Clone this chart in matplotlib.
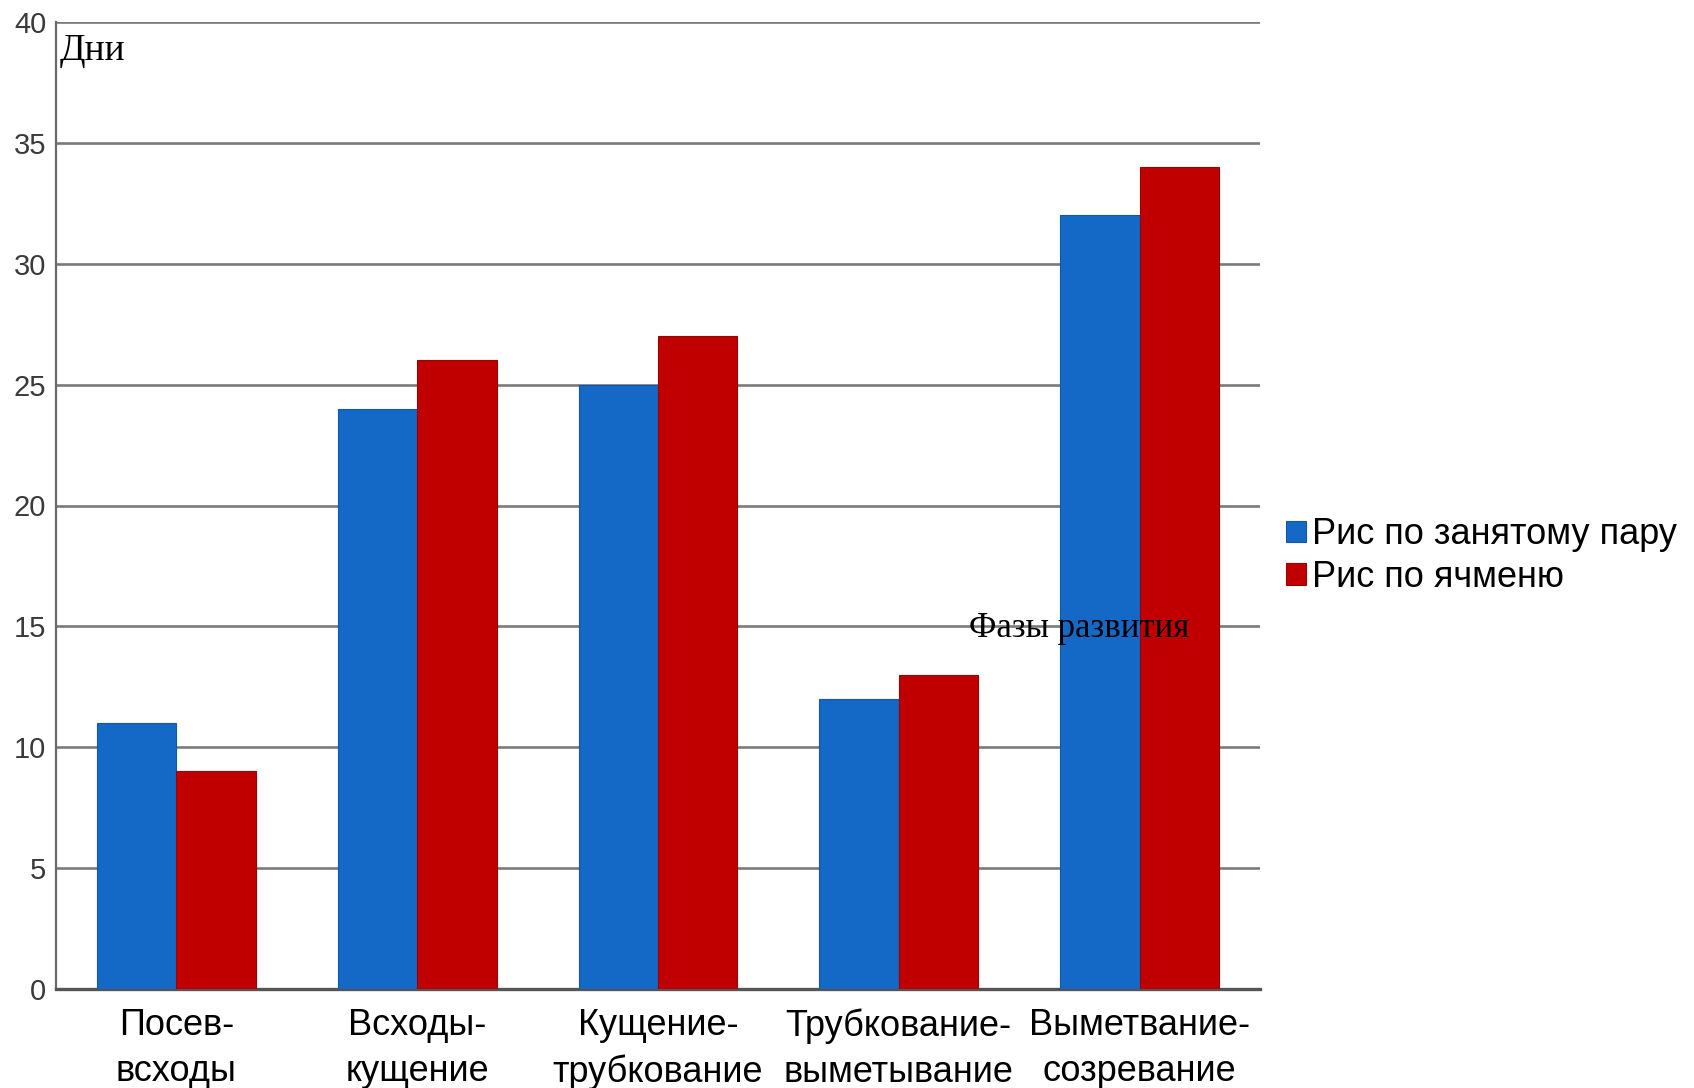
import matplotlib.pyplot as plt
import numpy as np

# durations of development phases, days
phases = ["Посев-\nвсходы", "Всходы-\nкущение", "Кущение-\nтрубкование",
          "Трубкование-\nвыметывание", "Выметвание-\nсозревание"]
fallow = [11, 24, 25, 12, 32]
barley = [9, 26, 27, 13, 34]
series_names = ["Рис по занятому пару", "Рис по ячменю"]
yticks = [0, 5, 10, 15, 20, 25, 30, 35, 40]

plt.rcParams['font.family'] = ['Liberation Sans', 'DejaVu Sans']

fig = plt.figure(figsize=(16.94, 10.88), dpi=100)
ax = fig.add_axes([56 / 1694, 1 - 989 / 1088, 1204 / 1694, 967 / 1088])

x = np.arange(len(phases))
w = 0.33
ax.bar(x - w / 2, fallow, w, color='#1469c6', edgecolor='#1257a6', linewidth=0.8,
       label=series_names[0], zorder=3)
ax.bar(x + w / 2, barley, w, color='#c00000', edgecolor='#9a0000', linewidth=0.8,
       label=series_names[1], zorder=3)

ax.set_xlim(-0.5, len(phases) - 0.5)
ax.set_ylim(0, 40)
ax.set_yticks(yticks)
ax.set_xticks(x)
ax.set_xticklabels(phases, fontsize=26, linespacing=1.4)
ax.tick_params(axis='x', length=0, pad=14)
ax.tick_params(axis='y', length=0, pad=7, labelsize=21, labelcolor='#3a3a3a')

ax.grid(axis='y', color='#7a7a7a', linewidth=1.9, zorder=1)
ax.set_axisbelow(True)
for side in ['top', 'right']:
    ax.spines[side].set_visible(False)
ax.spines['left'].set_color('#6a6a6a')
ax.spines['left'].set_linewidth(1.6)
ax.spines['bottom'].set_color('#555555')
ax.spines['bottom'].set_linewidth(2.4)

ax.text(0.003, 0.988, "Дни", transform=ax.transAxes, fontsize=27,
        family='Liberation Serif', ha='left', va='top')
ax.text(3.75, 14.9, "Фазы развития", fontsize=25, family='Liberation Serif',
        ha='center', va='center', zorder=4)

fig.legend(loc='center left', bbox_to_anchor=(1272 / 1694, 1 - 556 / 1088),
           frameon=False, fontsize=26, handlelength=0.55, handleheight=0.55,
           handletextpad=0.15, labelspacing=0.2, borderaxespad=0)

fig.savefig('out.png', dpi=100, facecolor='white')
